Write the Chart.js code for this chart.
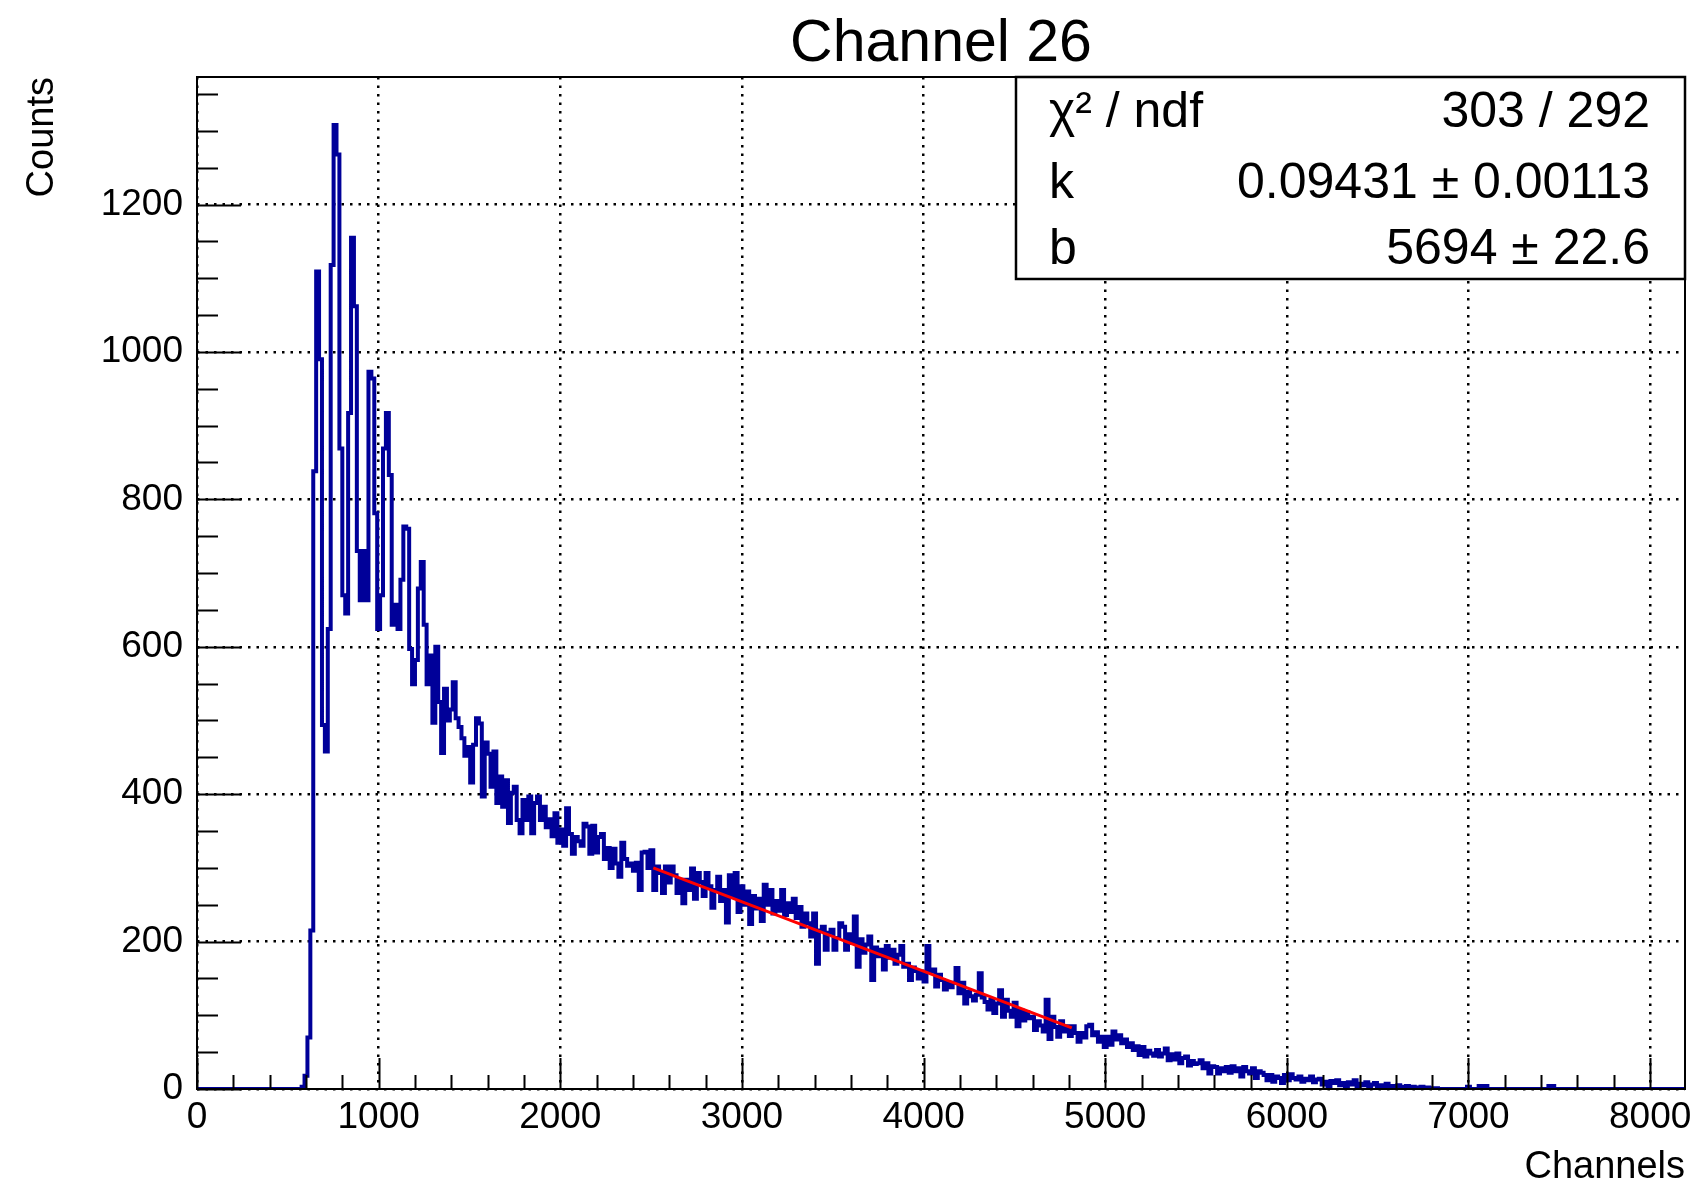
<!DOCTYPE html>
<html>
<head>
<meta charset="utf-8">
<title>Channel 26</title>
<script src="https://cdn.jsdelivr.net/npm/chart.js@4.4.1/dist/chart.umd.min.js"></script>
<style>
  html, body { margin: 0; padding: 0; background: #fff; }
  #wrap { width: 1696px; height: 1181px; }
</style>
</head>
<body>
<div id="wrap"><canvas id="spectrum" width="1696" height="1181"></canvas></div>
<script>
// --- data -------------------------------------------------------------
const chartTitle = 'Channel 26';
const xTitle = 'Channels';
const yTitle = 'Counts';

const binWidth = 16;          // channels per bin
const nBins = 512;            // 0 .. 8192
const firstChannel = 576;     // channel of counts[0]; bins before are empty
const counts = [
  // 576
  3, 18, 70, 215, 838, 1109, 990, 494, 458, 624,
  1118, 1308, 1268, 869, 670, 645, 917, 1155, 1062, 730,
  663, 730, 663, 973, 964, 781, 624, 670, 869, 917,
  833, 630, 657, 624, 691, 763, 760, 597, 549, 582,
  679, 715, 630, 549, 588, 497, 600, 525, 456, 543,
  500, 515, 552, 503, 491, 476, 452, 464, 416, 467,
  503, 496, 397, 470, 455,
  // 1616
  410, 458, 388, 424, 383, 419, 361, 402, 410, 365,
  347, 392, 365, 397, 347, 388, 397, 365, 383, 355,
  366, 343, 374, 334, 352, 330, 381, 346, 319, 342,
  336, 330, 360, 356, 319, 357, 321, 342, 346, 312,
  327, 300, 326, 306, 288, 334, 312, 303, 306, 296,
  307, 270, 321, 322, 300, 324, 270, 302, 293, 266,
  302, 280, 302, 290, 266, 284, 252, 284, 270, 299,
  258, 293, 281, 262, 293, 275, 246, 270, 288, 255,
  270, 226, 290, 262, 293, 240, 275, 250, 268, 224,
  262, 245, 258, 228, 277, 250, 270, 238, 255, 242,
  270, 236, 252, 240, 258, 232,
  // 3312
  247, 220, 238, 225, 207, 238, 170, 215, 220, 189,
  212, 216, 189, 205, 225, 220, 189, 210, 198, 234,
  166, 203, 185, 196, 207, 148, 192, 180, 189, 162,
  194, 178, 189, 170, 182, 194, 166, 170, 148, 165,
  160, 150, 158, 146, 194, 160, 162, 139, 155, 148,
  135, 144, 138, 144, 164, 130, 144, 116, 132, 126,
  120, 128, 157, 124, 118, 108, 121, 103, 116, 134,
  98, 121, 106, 98, 117, 85, 107, 93, 104, 96,
  98, 80, 92, 86, 78, 121, 68, 98, 84, 71,
  92, 78, 85, 72, 85, 76, 64, 76, 70, 85,
  87, 73, 77, 64, 71, 57, 71, 60, 78, 67,
  73, 62, 67, 57, 62, 53, 58, 46, 57, 44,
  52, 48, 45, 53, 44, 48, 55, 39, 47, 40,
  48, 35, 42, 44, 32, 38, 34, 35,
  // 5520
  39, 28, 35, 21, 31, 30, 21, 28, 24, 30,
  22, 31, 24, 28, 17, 30, 24, 21, 28, 15,
  24, 22, 19, 12, 19, 10, 17, 15, 8, 19,
  12, 20, 15, 13, 17, 10, 14, 12, 17, 9,
  13, 14, 6, 10, 3, 11, 8, 12, 5, 8,
  3, 9, 6, 12, 4, 7, 5, 9, 3, 6,
  8, 4, 5, 2, 7, 3, 4, 2, 5, 3,
  1, 4, 2, 3, 1, 2, 3, 0, 2, 1,
  0, 1,
  // 6832
  0, 0, 0, 0, 0, 0, 0, 0, 0, 0,
  3, 0, 0, 0, 4, 4, 4, 0, 0, 0,
  0, 0, 0, 0, 0, 0, 0, 0, 0, 0,
  0, 0, 0, 0, 0, 0, 0, 0, 4, 4,
  0, 0, 0, 0
];

// straight-line fit k*(b - x), drawn over its fit range
const fitX = [2512, 4816];
const fitY = [300, 83];

const xMax = 8192;
const yMax = 1373;
const xTicks = [0, 1000, 2000, 3000, 4000, 5000, 6000, 7000, 8000];
const yTicks = [0, 200, 400, 600, 800, 1000, 1200];
const xMinorStep = 200;
const yMinorStep = 50;

const statsLabels = ['\u03C7\u00B2 / ndf', 'k', 'b'];
const statsValues = ['303 / 292', '0.09431 \u00B1 0.00113', '5694 \u00B1 22.6'];

// --- build step outline of the histogram ---------------------------------
const histPoints = [];
for (let i = 0; i < nBins; i++) {
  const lo = i * binWidth;
  const idx = (lo - firstChannel) / binWidth;
  const v = idx >= 0 && idx < counts.length ? counts[idx] : 0;
  histPoints.push({ x: lo, y: v }, { x: lo + binWidth, y: v });
}
const fitPoints = fitX.map((x, i) => ({ x: x, y: fitY[i] }));

const FONT = '"Liberation Sans", Arial, Helvetica, sans-serif';
Chart.defaults.color = '#000';
Chart.defaults.font.family = FONT;

// ROOT-like frame, inward ticks, title and stats box
const rootFrame = {
  id: 'rootFrame',
  afterDatasetsDraw(chart) {
    const { ctx, chartArea: a, scales: { x, y } } = chart;
    ctx.save();
    ctx.strokeStyle = '#000';
    ctx.lineWidth = 2;
    ctx.beginPath();
    for (let v = 0; v <= xMax; v += xMinorStep) {
      const px = Math.round(x.getPixelForValue(v)) + 0.5;
      const len = v % 1000 === 0 ? 31 : 14;
      ctx.moveTo(px, a.bottom);
      ctx.lineTo(px, a.bottom - len);
    }
    for (let v = 0; v <= yMax; v += yMinorStep) {
      const py = Math.round(y.getPixelForValue(v)) + 0.5;
      const len = v % 200 === 0 ? 44 : 21;
      ctx.moveTo(a.left, py);
      ctx.lineTo(a.left + len, py);
    }
    ctx.stroke();
    ctx.strokeRect(a.left, a.top, a.right - a.left, a.bottom - a.top);

    // title, centred on the frame
    ctx.fillStyle = '#000';
    ctx.font = '59px ' + FONT;
    ctx.textAlign = 'center';
    ctx.textBaseline = 'middle';
    ctx.fillText(chartTitle, (a.left + a.right) / 2, 45);

    // fit statistics box
    const bx = a.left + 0.5504 * (a.right - a.left);
    const bh = 0.1996 * (a.bottom - a.top);
    ctx.fillStyle = '#fff';
    ctx.fillRect(bx, a.top, a.right - bx, bh);
    ctx.lineWidth = 2.5;
    ctx.strokeRect(bx, a.top, a.right - bx, bh);
    ctx.fillStyle = '#000';
    ctx.font = '50px ' + FONT;
    const rowAt = [0.17, 0.52, 0.85];
    statsLabels.forEach((lab, i) => {
      const ty = a.top + rowAt[i] * bh + 2;
      ctx.textAlign = 'left';
      ctx.fillText(lab, bx + 33, ty);
      ctx.textAlign = 'right';
      ctx.fillText(statsValues[i], a.right - 35, ty);
    });
    ctx.restore();
  }
};

new Chart(document.getElementById('spectrum'), {
  type: 'line',
  data: {
    datasets: [
      {
        label: 'fit',
        data: fitPoints,
        borderColor: '#ff0000',
        borderWidth: 3,
        pointRadius: 0,
        fill: false,
        order: 0
      },
      {
        label: 'Channel 26',
        data: histPoints,
        borderColor: '#000099',
        borderWidth: 4,
        borderJoinStyle: 'miter',
        pointRadius: 0,
        tension: 0,
        fill: false,
        order: 1
      }
    ]
  },
  options: {
    responsive: false,
    animation: false,
    devicePixelRatio: 1,
    parsing: false,
    layout: { padding: { left: 24, right: 11, top: 77, bottom: 0 } },
    plugins: {
      legend: { display: false },
      tooltip: { enabled: false },
      title: { display: false }
    },
    scales: {
      x: {
        type: 'linear',
        min: 0,
        max: xMax,
        afterBuildTicks: (s) => { s.ticks = xTicks.map(v => ({ value: v })); },
        afterFit: (s) => {
          s.height = 92;
          s.paddingLeft = s.paddingRight = s.paddingTop = s.paddingBottom = 0;
        },
        ticks: {
          font: { size: 37 }, color: '#000', padding: 7, maxRotation: 0, autoSkip: false,
          callback: (v) => String(v)
        },
        grid: { color: '#000', lineWidth: 2.5, drawTicks: false },
        border: { display: false, dash: [2.5, 6] },
        title: {
          display: true, text: xTitle, align: 'end', color: '#000',
          font: { size: 38, lineHeight: 0.7 }, padding: { top: 0, bottom: 0 }
        }
      },
      y: {
        type: 'linear',
        min: 0,
        max: yMax,
        afterBuildTicks: (s) => { s.ticks = yTicks.map(v => ({ value: v })); },
        afterFit: (s) => {
          s.width = 173;
          s.paddingLeft = s.paddingRight = s.paddingTop = s.paddingBottom = 0;
        },
        ticks: { font: { size: 37 }, color: '#000', padding: 14, callback: (v) => String(v) },
        grid: { color: '#000', lineWidth: 2.5, drawTicks: false },
        border: { display: false, dash: [2.5, 6] },
        title: {
          display: true, text: yTitle, align: 'end', color: '#000',
          font: { size: 38, lineHeight: 1 }, padding: { top: 0, bottom: 0 }
        }
      }
    }
  },
  plugins: [rootFrame]
});
</script>
</body>
</html>
